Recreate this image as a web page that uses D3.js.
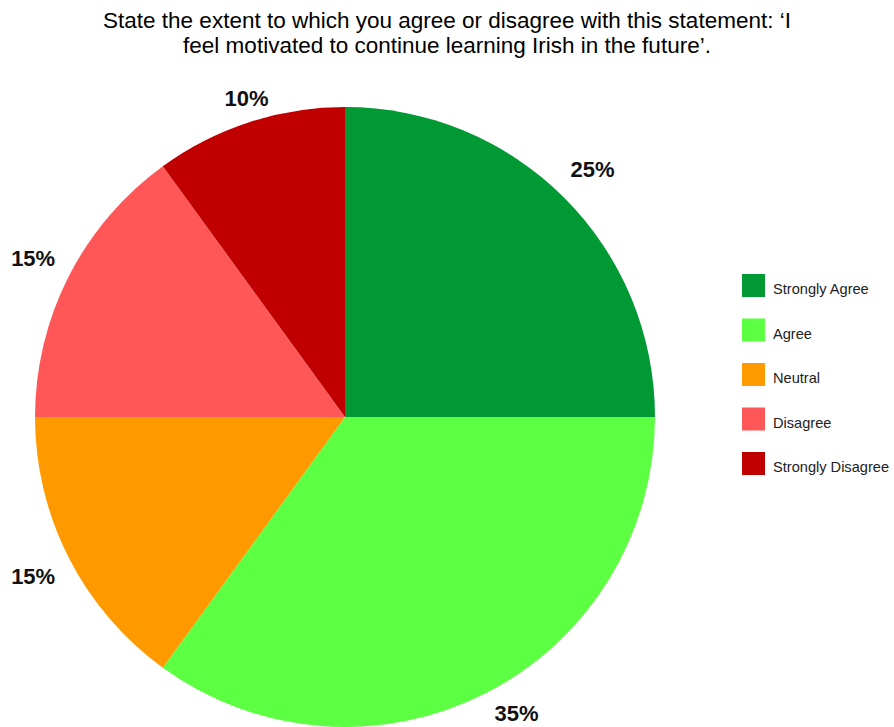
<!DOCTYPE html>
<html>
<head>
<meta charset="utf-8">
<script src="https://cdn.jsdelivr.net/npm/d3@7"></script>
<style>
  html, body { margin: 0; padding: 0; background: #fff; }
  svg text { font-family: "Liberation Sans", Arial, sans-serif; }
</style>
</head>
<body>
<svg id="chart" width="894" height="727"></svg>
<script>
const titleLines = [
  "State the extent to which you agree or disagree with this statement: \u2018I",
  "feel motivated to continue learning Irish in the future\u2019."
];
const categories = ["Strongly Agree", "Agree", "Neutral", "Disagree", "Strongly Disagree"];
const values = [25, 35, 15, 15, 10];
const colors = ["#009933", "#5cff42", "#ff9900", "#ff5757", "#c00000"];

const W = 894, H = 727;
const cx = 345, cy = 417, R = 310, labelR = 350;

const svg = d3.select("#chart");

svg.append("g").selectAll("text")
  .data(titleLines)
  .join("text")
  .attr("x", 447)
  .attr("y", (d, i) => 28 + i * 25)
  .attr("text-anchor", "middle")
  .attr("font-size", 22.5)
  .attr("fill", "#000")
  .text(d => d);

const color = d3.scaleOrdinal().domain(categories).range(colors);
const total = d3.sum(values);
const data = categories.map((c, i) => ({ cat: c, value: values[i] }));

const pie = d3.pie().value(d => d.value).sort(null);
const arcs = pie(data);
const arc = d3.arc().innerRadius(0).outerRadius(R);

const g = svg.append("g").attr("transform", `translate(${cx},${cy})`);
g.selectAll("path")
  .data(arcs)
  .join("path")
  .attr("d", arc)
  .attr("fill", d => color(d.data.cat));

// Percentage labels sit just outside the rim; near the top and bottom they are
// nudged inward so they stay clear of the title and the lower edge.
const labelArc = d3.arc().innerRadius(labelR).outerRadius(labelR);
const yMin = 98 - cy, yMax = 713 - cy;
function labelPos(d) {
  let [x, y] = labelArc.centroid(d);
  if (y > yMax) { x += (y - yMax) * 0.8; y = yMax; }
  if (y < yMin) { x += (yMin - y) * 0.7; y = yMin; }
  return [x, y];
}
g.selectAll("text.lbl")
  .data(arcs)
  .join("text")
  .attr("class", "lbl")
  .attr("x", d => labelPos(d)[0])
  .attr("y", d => labelPos(d)[1])
  .attr("dy", "0.36em")
  .attr("text-anchor", "middle")
  .attr("font-size", 22)
  .attr("font-weight", "bold")
  .attr("fill", "#111")
  .text(d => Math.round(d.data.value / total * 100) + "%");

const legend = svg.append("g").attr("transform", "translate(742,274)");
const item = legend.selectAll("g")
  .data(categories)
  .join("g")
  .attr("transform", (d, i) => `translate(0,${i * 44.5})`);
item.append("rect")
  .attr("width", 23).attr("height", 23)
  .attr("fill", d => color(d));
item.append("text")
  .attr("x", 31).attr("y", 20)
  .attr("font-size", 14.6)
  .attr("fill", "#222")
  .text(d => d);
</script>
</body>
</html>
